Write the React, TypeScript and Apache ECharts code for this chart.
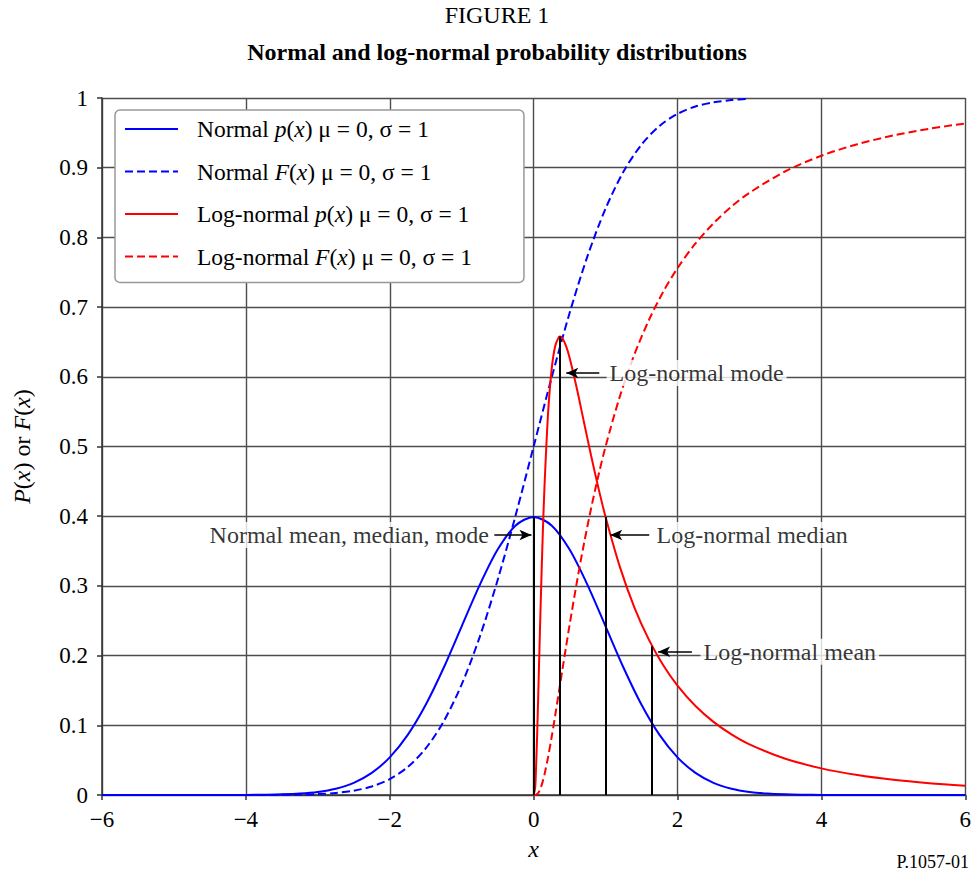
import React, { useEffect, useRef } from "react";
import * as echarts from "echarts";

const FONT = "Liberation Serif";
const BLUE = "#0000ff";
const RED = "#ff0000";

// Normal distribution (mu = 0, sigma = 1)
const normalX = [-6, -5, -4.5, -4, -3.75, -3.5, -3.25, -3, -2.75, -2.5, -2.25, -2, -1.75, -1.5, -1.25, -1, -0.75, -0.5, -0.25, 0, 0.25, 0.5, 0.75, 1, 1.25, 1.5, 1.75, 2, 2.25, 2.5, 2.75, 3, 3.25, 3.5, 3.75, 4, 4.5, 5, 6];
const normalPdf = [0, 0, 0, 0.0001, 0.0004, 0.0009, 0.002, 0.0044, 0.0091, 0.0175, 0.0317, 0.054, 0.0863, 0.1295, 0.1826, 0.242, 0.3011, 0.3521, 0.3867, 0.3989, 0.3867, 0.3521, 0.3011, 0.242, 0.1826, 0.1295, 0.0863, 0.054, 0.0317, 0.0175, 0.0091, 0.0044, 0.002, 0.0009, 0.0004, 0.0001, 0, 0, 0];
const normalCdfX = [-6, -5, -4.5, -4, -3.75, -3.5, -3.25, -3, -2.75, -2.5, -2.25, -2, -1.75, -1.5, -1.25, -1, -0.75, -0.5, -0.25, 0, 0.25, 0.5, 0.75, 1, 1.25, 1.5, 1.75, 2, 2.25, 2.5, 2.75, 3];
const normalCdf = [0, 0, 0, 0, 0.0001, 0.0002, 0.0006, 0.0013, 0.003, 0.0062, 0.0122, 0.0228, 0.0401, 0.0668, 0.1056, 0.1587, 0.2266, 0.3085, 0.4013, 0.5, 0.5987, 0.6915, 0.7734, 0.8413, 0.8944, 0.9332, 0.9599, 0.9772, 0.9878, 0.9938, 0.997, 0.9987];

// Log-normal distribution (mu = 0, sigma = 1)
const lognX = [0, 0.02, 0.03, 0.05, 0.075, 0.1, 0.125, 0.15, 0.2, 0.25, 0.3, 0.35, 0.3679, 0.4, 0.45, 0.5, 0.6, 0.7, 0.8, 0.9, 1, 1.2, 1.4, 1.6, 1.8, 2, 2.25, 2.5, 2.75, 3, 3.5, 4, 4.5, 5, 5.5, 6];
const lognPdf = [0, 0.0095, 0.0284, 0.0898, 0.1859, 0.2816, 0.3674, 0.4398, 0.5463, 0.6104, 0.6442, 0.6569, 0.6577, 0.6554, 0.6445, 0.6275, 0.5836, 0.5348, 0.4864, 0.4408, 0.3989, 0.327, 0.2693, 0.2233, 0.1865, 0.1569, 0.1276, 0.1049, 0.087, 0.0727, 0.052, 0.0382, 0.0286, 0.0218, 0.017, 0.0134];
const lognCdf = [0, 0.0001, 0.0002, 0.0014, 0.0048, 0.0107, 0.0188, 0.0289, 0.0538, 0.0828, 0.1143, 0.1469, 0.1587, 0.1798, 0.2123, 0.2441, 0.3047, 0.3607, 0.4117, 0.458, 0.5, 0.5723, 0.6318, 0.6808, 0.7217, 0.7559, 0.7913, 0.8202, 0.8442, 0.864, 0.8949, 0.9172, 0.9337, 0.9462, 0.9559, 0.9634];

// Vertical marker lines (normal mean, log-normal mode, median, mean)
const markerX = [0, 0.3679, 1, 1.6487];
const markerTop = [0.3989, 0.6577, 0.3989, 0.2135];

// Annotations
const annoText = ["Normal mean, median, mode", "Log-normal mode", "Log-normal median", "Log-normal mean"];
const annoY = [0.373, 0.6055, 0.373, 0.2055];
const annoTextX = [-0.546, 0.98, 1.632, 2.285];
const annoSide = ["left", "right", "right", "right"];
const arrowFrom = [-0.546, 0.913, 1.607, 2.2];
const arrowTo = [-0.03, 0.454, 1.065, 1.73];

const seriesNames = [
  "Normal p(x) μ = 0, σ = 1",
  "Normal F(x) μ = 0, σ = 1",
  "Log-normal p(x) μ = 0, σ = 1",
  "Log-normal F(x) μ = 0, σ = 1",
];
const legendRich: Record<string, string> = {
  [seriesNames[0]]: "{s| }{n|Normal }{i|p}{n|(}{i|x}{n|) μ = 0, σ = 1}",
  [seriesNames[1]]: "{s| }{n|Normal }{i|F}{n|(}{i|x}{n|) μ = 0, σ = 1}",
  [seriesNames[2]]: "{s| }{n|Log-normal }{i|p}{n|(}{i|x}{n|) μ = 0, σ = 1}",
  [seriesNames[3]]: "{s| }{n|Log-normal }{i|F}{n|(}{i|x}{n|) μ = 0, σ = 1}",
};

const pairs = (xs: number[], ys: number[]) => xs.map((x, i) => [x, ys[i]]);

export default function App() {
  const ref = useRef<HTMLDivElement>(null);
  useEffect(() => {
    if (!ref.current) return;
    const chart = echarts.init(ref.current, null, { renderer: "svg" });
    const legendRichStyle = {
      n: { fontFamily: FONT, fontSize: 23.5, color: "#000" },
      i: { fontFamily: FONT, fontSize: 23.5, color: "#000", fontStyle: "italic" },
      s: { width: 14, fontSize: 23.5 },
    };
    const nameRichStyle = {
      n: { fontFamily: FONT, fontSize: 24, color: "#000" },
      i: { fontFamily: FONT, fontSize: 24, color: "#000", fontStyle: "italic" },
    };
    const markLineData: any[] = [];
    markerX.forEach((x, i) => {
      markLineData.push([
        { coord: [x, 0], symbol: "none" },
        { coord: [x, markerTop[i]], symbol: "none" },
      ]);
    });
    arrowFrom.forEach((x, i) => {
      markLineData.push([
        { coord: [x, annoY[i]], symbol: "none", lineStyle: { width: 1.5 } },
        { coord: [arrowTo[i], annoY[i]], symbol: "arrow", symbolSize: [8, 12] },
      ]);
    });
    const lineSeries = (name: string, data: number[][], color: string, dashed: boolean) => ({
      name,
      type: "line",
      data,
      smooth: 0.3,
      symbol: "none",
      showSymbol: false,
      clip: true,
      lineStyle: { color, width: 2, type: dashed ? [8, 4] : "solid" },
      itemStyle: { color },
      emphasis: { disabled: true },
      silent: true,
      z: 3,
    });
    chart.setOption({
      animation: false,
      backgroundColor: "#fff",
      graphic: [
        {
          type: "text",
          x: 497,
          y: 15,
          style: { text: "FIGURE 1", font: `24px "${FONT}"`, fill: "#000", align: "center", verticalAlign: "middle" },
        },
        {
          type: "text",
          x: 497,
          y: 52,
          style: {
            text: "Normal and log-normal probability distributions",
            font: `bold 24px "${FONT}"`,
            fill: "#000",
            align: "center",
            verticalAlign: "middle",
          },
        },
        {
          type: "text",
          right: 5,
          top: 853,
          style: { text: "P.1057-01", font: `18px "${FONT}"`, fill: "#000" },
        },
      ],
      grid: { left: 102, right: 8, top: 98, bottom: 82 },
      legend: {
        orient: "vertical",
        left: 115,
        top: 110,
        padding: [7, 52, 14, 9],
        itemWidth: 53,
        itemHeight: 26,
        itemGap: 18.5,
        backgroundColor: "#fff",
        borderColor: "#999",
        borderWidth: 1.5,
        borderRadius: 5,
        selectedMode: false,
        data: seriesNames,
        itemStyle: { opacity: 0, color: "rgba(0,0,0,0)", borderWidth: 0 },
        formatter: (name: string) => legendRich[name],
        textStyle: { fontFamily: FONT, fontSize: 23.5, color: "#000", rich: legendRichStyle },
      },
      xAxis: {
        type: "value",
        min: -6,
        max: 6,
        interval: 2,
        name: "x",
        nameLocation: "middle",
        nameGap: 42,
        nameTextStyle: { fontFamily: FONT, fontSize: 24, fontStyle: "italic", color: "#000" },
        axisLine: { show: true, onZero: false, lineStyle: { color: "#333", width: 1.5 } },
        axisTick: { show: true, length: 5, lineStyle: { color: "#333", width: 1.5 } },
        axisLabel: {
          fontFamily: FONT,
          fontSize: 23,
          color: "#000",
          margin: 13,
          formatter: (v: number) => (v < 0 ? "\u2212" + Math.abs(v) : String(v)),
        },
        splitLine: { show: true, lineStyle: { color: "#4d4d4d", width: 1.4 } },
      },
      yAxis: {
        type: "value",
        min: 0,
        max: 1,
        interval: 0.1,
        name: "{i|P}{n|(}{i|x}{n|) or }{i|F}{n|(}{i|x}{n|)}",
        nameLocation: "middle",
        nameGap: 68,
        nameTextStyle: { fontFamily: FONT, fontSize: 24, color: "#000", rich: nameRichStyle },
        axisLine: { show: true, onZero: false, lineStyle: { color: "#333", width: 1.5 } },
        axisTick: { show: true, length: 5, lineStyle: { color: "#333", width: 1.5 } },
        axisLabel: { fontFamily: FONT, fontSize: 23, color: "#000", margin: 14 },
        splitLine: { show: true, lineStyle: { color: "#4d4d4d", width: 1.4 } },
      },
      series: [
        lineSeries(seriesNames[0], pairs(normalX, normalPdf), BLUE, false),
        lineSeries(seriesNames[1], pairs(normalCdfX, normalCdf), BLUE, true),
        lineSeries(seriesNames[2], pairs(lognX, lognPdf), RED, false),
        lineSeries(seriesNames[3], pairs(lognX, lognCdf), RED, true),
        {
          name: "annotations",
          type: "scatter",
          silent: true,
          symbolSize: 1,
          itemStyle: { color: "rgba(0,0,0,0)" },
          emphasis: { disabled: true },
          z: 5,
          data: annoText.map((t, i) => ({
            value: [annoTextX[i], annoY[i]],
            label: { position: annoSide[i] },
          })),
          label: {
            show: true,
            distance: 2,
            formatter: (p: any) => annoText[p.dataIndex],
            fontFamily: FONT,
            fontSize: 24,
            color: "#000",
            backgroundColor: "#fff",
            padding: [1, 3],
          },
          markLine: {
            silent: true,
            symbol: ["none", "none"],
            label: { show: false },
            emphasis: { disabled: true },
            lineStyle: { color: "#000", width: 2, type: "solid" },
            data: markLineData,
          },
        },
      ],
    });
    return () => chart.dispose();
  }, []);
  return <div ref={ref} style={{ position: "fixed", left: 0, top: 0, width: 974, height: 877 }} />;
}
